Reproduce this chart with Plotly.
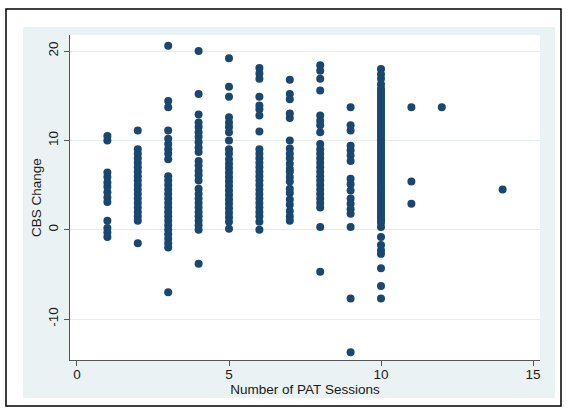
import plotly.graph_objects as go

# Number of PAT sessions (x categories) and CBS change values observed at each
sessions = [1, 2, 3, 4, 5, 6, 7, 8, 9, 10, 11, 12, 14]

cbs_s1 = [10.5, 10.0, 6.4, 5.9, 5.3, 4.8, 4.2, 3.6, 3.1, 1.0, 0.2, -0.3, -0.8]
cbs_s2 = [11.1, 9.0, 8.5, 8.0, 7.5, 7.0, 6.5, 6.0, 5.5, 5.0, 4.5, 4.0, 3.5, 3.0,
          2.5, 2.0, 1.5, 1.0, -1.5]
cbs_s3 = [20.6, 14.4, 13.7, 11.1, 10.2, 9.6, 9.0, 8.5, 7.9, 6.0, 5.5, 5.0, 4.5,
          4.0, 3.5, 3.0, 2.5, 2.0, 1.5, 1.0, 0.5, 0.0, -0.5, -1.0, -1.5, -2.0, -7.0]
cbs_s4 = [20.0, 15.2, 12.9, 12.0, 11.5, 10.9, 10.4, 9.8, 9.2, 8.7, 7.7, 7.2, 6.6,
          6.1, 5.5, 4.6, 4.0, 3.5, 3.0, 2.5, 2.0, 1.5, 1.0, 0.5, 0.0, -3.8]
cbs_s5 = [19.2, 16.0, 14.9, 12.6, 12.0, 11.5, 10.9, 10.0, 9.0, 8.5, 7.9, 7.4, 6.9,
          6.4, 5.9, 5.4, 4.9, 4.4, 3.9, 3.4, 2.9, 2.4, 1.9, 1.4, 0.9, 0.1]
cbs_s6 = [18.1, 17.5, 16.9, 14.9, 13.9, 13.5, 12.8, 11.0, 9.0, 8.5, 8.0, 7.5, 7.0,
          6.5, 6.0, 5.5, 5.0, 4.5, 4.0, 3.5, 3.0, 2.5, 2.0, 1.5, 0.9, 0.0]
cbs_s7 = [16.8, 15.2, 14.6, 13.0, 12.5, 10.0, 9.1, 8.5, 8.0, 7.4, 6.8, 6.5, 5.9,
          5.4, 4.6, 4.1, 3.4, 2.8, 2.1, 1.5, 1.0]
cbs_s8 = [18.4, 17.8, 16.9, 15.6, 12.8, 12.2, 11.7, 10.9, 9.6, 9.0, 8.5, 8.0, 7.5,
          7.0, 6.5, 6.0, 5.5, 5.0, 4.5, 4.0, 3.5, 3.0, 2.5, 0.3, -4.7]
cbs_s9 = [13.7, 11.7, 11.1, 9.4, 8.9, 8.3, 7.7, 5.7, 5.1, 4.4, 3.5, 2.9, 2.3, 1.8,
          0.3, -7.7, -13.7]
cbs_s10 = [18.0, 17.4, 16.9, 16.3, 15.8, 15.5, 15.2, 14.9, 14.6, 14.3, 14.0, 13.7,
           13.4, 13.1, 12.8, 12.5, 12.2, 11.9, 11.6, 11.3, 11.0, 10.7, 10.4, 10.1,
           9.8, 9.5, 9.2, 8.9, 8.6, 8.3, 8.0, 7.7, 7.4, 7.1, 6.8, 6.5, 6.2, 5.9,
           5.6, 5.3, 5.0, 4.7, 4.4, 4.1, 3.8, 3.5, 3.2, 2.9, 2.6, 2.3, 2.0, 1.7,
           1.4, 1.1, 0.8, 0.3, -0.8, -1.7, -2.3, -2.7, -4.3, -6.3, -7.7]
cbs_s11 = [13.7, 5.4, 2.9]
cbs_s12 = [13.7]
cbs_s14 = [4.5]

cbs_by_session = [cbs_s1, cbs_s2, cbs_s3, cbs_s4, cbs_s5, cbs_s6, cbs_s7, cbs_s8,
                  cbs_s9, cbs_s10, cbs_s11, cbs_s12, cbs_s14]

x_ticks = [0, 5, 10, 15]
y_ticks = [-10, 0, 10, 20]

xs, ys = [], []
for s, vals in zip(sessions, cbs_by_session):
    xs.extend([s] * len(vals))
    ys.extend(vals)

FONT = "Liberation Sans, Arial, sans-serif"
NAVY = "#1a476f"
REGION = "#eaf2f3"

fig = go.Figure()
fig.add_trace(go.Scatter(
    x=xs, y=ys, mode="markers",
    marker=dict(color=NAVY, size=8, line=dict(width=0)),
    showlegend=False, hoverinfo="x+y",
))

W, H = 567, 410
ml, mr, mt, mb = 70, 27, 35, 50
pw, ph = W - ml - mr, H - mt - mb


def px2paper(x0, y0, x1, y1):
    return dict(x0=(x0 - ml) / pw, x1=(x1 - ml) / pw,
                y0=(H - mb - y1) / ph, y1=(H - mb - y0) / ph)


shapes = [
    dict(type="rect", xref="paper", yref="paper", layer="below",
         fillcolor=REGION, line=dict(width=0), **px2paper(23, 27, 555, 398)),
    dict(type="rect", xref="paper", yref="paper", layer="below",
         fillcolor="white", line=dict(width=0), x0=0, x1=1, y0=0, y1=1),
    dict(type="rect", xref="paper", yref="paper", layer="above",
         fillcolor="rgba(0,0,0,0)", line=dict(color="black", width=1.5),
         **px2paper(6, 9, 561, 406)),
]

fig.update_layout(
    width=W, height=H,
    margin=dict(l=ml, r=mr, t=mt, b=mb, autoexpand=False),
    paper_bgcolor="white",
    plot_bgcolor="rgba(0,0,0,0)",
    font=dict(family=FONT, size=13.5, color="#1a1a1a"),
    shapes=shapes,
    xaxis=dict(
        range=[-0.23, 15.23], tickvals=x_ticks, ticktext=[str(v) for v in x_ticks],
        showgrid=False, zeroline=False,
        showline=True, linecolor="#555555", linewidth=1,
        ticks="outside", ticklen=5, tickcolor="#555555",
        ticklabelstandoff=-3,
        title=dict(text="Number of PAT Sessions", standoff=0,
                   font=dict(size=13.5)),
    ),
    yaxis=dict(
        range=[-14.58, 21.8], tickvals=y_ticks, ticktext=[str(v) for v in y_ticks],
        showgrid=True, gridcolor="#e3ecee", gridwidth=1, zeroline=False,
        showline=True, linecolor="#555555", linewidth=1,
        ticks="outside", ticklen=5, tickcolor="#555555",
        tickangle=-90, ticklabelstandoff=1,
        title=dict(text="CBS Change", standoff=0, font=dict(size=13.5)),
    ),
)

fig.write_html(
    "out.html",
    config={"displayModeBar": False},
    post_script="document.body.style.margin='0';document.body.style.overflow='hidden';",
)
